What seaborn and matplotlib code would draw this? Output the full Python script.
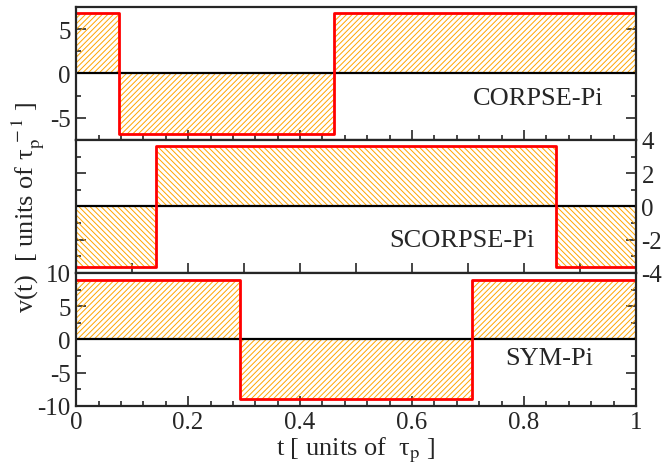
import pandas as pd
import matplotlib
matplotlib.use("Agg")
import matplotlib.pyplot as plt
import seaborn as sns
from matplotlib.ticker import MultipleLocator

# *DATA*
## switching times (units of tau_p) and amplitude of each segment
corpse_t = [0.0, 0.0769, 0.4615, 1.0]
corpse_v = [6.8, -6.8, 6.8]
scorpse_t = [0.0, 0.1429, 0.8571, 1.0]
scorpse_v = [-3.66, 3.66, -3.66]
sym_t = [0.0, 0.293, 0.707, 1.0]
sym_v = [8.9, -8.9, 8.9]

pulse_names = ["CORPSE-Pi", "SCORPSE-Pi", "SYM-Pi"]

#----------------------------------------------------------------------

sns.set_style("ticks")
plt.rcParams["font.family"] = ["Liberation Serif", "DejaVu Serif"]
plt.rcParams["mathtext.fontset"] = "stix"
plt.rcParams["axes.unicode_minus"] = False
plt.rcParams["hatch.linewidth"] = 0.7

fig, axes = plt.subplots(3, 1, figsize=(6.68, 4.64), dpi=100)
fig.subplots_adjust(left=0.114, right=0.952, top=0.983, bottom=0.123, hspace=0)

panels = [
    (corpse_t, corpse_v, "//////", (-7.5, 7.5), 5, 2.5, (0.825, -2.8)),
    (scorpse_t, scorpse_v, "\\\\\\\\\\\\", (-4, 4), 2, 1, (0.689, -2.0)),
    (sym_t, sym_v, "//////", (-10, 10), 5, 2.5, (0.846, -2.85)),
]

for i, (ax, (t, v, hatch, ylim, major, minor, txt)) in enumerate(zip(axes, panels)):
    df = pd.DataFrame({"t": t, "v": v + [v[-1]]})
    ax.fill_between(df["t"], df["v"], 0, step="post", facecolor="none",
                    edgecolor="orange", hatch=hatch, linewidth=0)
    ax.axhline(0, color="black", lw=1.6, zorder=3)
    sns.lineplot(data=df, x="t", y="v", drawstyle="steps-post", color="red",
                 lw=2, estimator=None, sort=False, ax=ax, zorder=4)
    ax.set_xlim(0, 1)
    ax.set_ylim(*ylim)
    ax.yaxis.set_major_locator(MultipleLocator(major))
    ax.yaxis.set_minor_locator(MultipleLocator(minor))
    ax.set_xlabel("")
    ax.set_ylabel("")
    ax.text(txt[0], txt[1], pulse_names[i], ha="center", va="center", fontsize=19)
    for s in ax.spines.values():
        s.set_linewidth(1.6)
        s.set_zorder(5)
    ax.tick_params(which="both", direction="in", left=True, right=True,
                   top=False, bottom=True, labelsize=18, width=1.2)
    ax.tick_params(which="major", length=7, pad=4)
    ax.tick_params(which="minor", length=3.5)

## x ticks: top and bottom panels 0.2 / 0.04, middle every 0.1
for ax in (axes[0], axes[2]):
    ax.xaxis.set_major_locator(MultipleLocator(0.2))
    ax.xaxis.set_minor_locator(MultipleLocator(0.04))
axes[1].xaxis.set_major_locator(MultipleLocator(0.1))
axes[1].xaxis.set_minor_locator(MultipleLocator(0.1))

## label sides
axes[0].tick_params(labelleft=True, labelright=False, labelbottom=False)
axes[1].tick_params(labelleft=False, labelright=True, labelbottom=False)
axes[2].tick_params(labelleft=True, labelright=False, labelbottom=True)
axes[2].xaxis.set_major_formatter(plt.FuncFormatter(lambda x, p: f"{x:g}"))
axes[2].set_xlabel(r"t [ units of  τ$_{\rm p}$ ]", fontsize=19, labelpad=1)

fig.text(0.043, 0.553, r"v(t)  [ units of τ$_{\rm p}^{\;-1}$ ]", rotation=90,
         ha="center", va="center", fontsize=19)

plt.savefig("out.png", dpi=100)
